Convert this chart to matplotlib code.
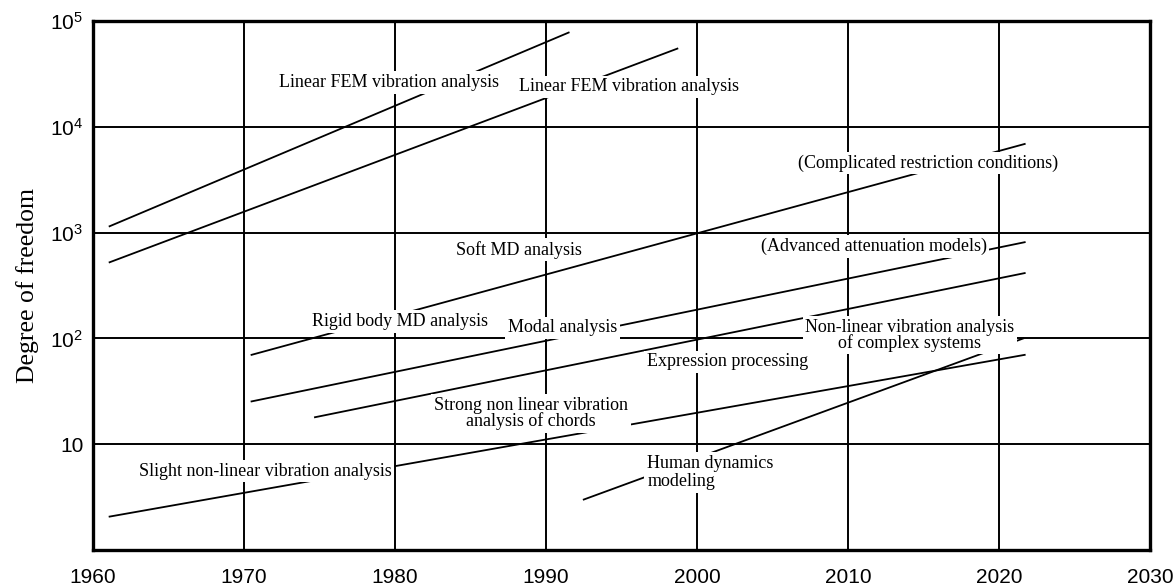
import numpy as np
import matplotlib
matplotlib.use("Agg")
from matplotlib import pyplot as plt

# trend lines: (start year, start dof, end year, end dof)
line_start_years = [1961.1, 1961.1, 1970.5, 1970.5, 1974.7, 1961.1, 1992.5]
line_start_dof = [1150, 525, 70, 25.4, 18, 2.07, 3.0]
line_end_years = [1991.5, 1998.7, 2021.7, 2021.7, 2021.7, 2021.7, 2021.6]
line_end_dof = [78000, 55000, 6900, 813, 415, 70, 100]

# labels placed on the chart
label_texts = [
    "Linear FEM vibration analysis",
    "Linear FEM vibration analysis",
    "(Complicated restriction conditions)",
    "Soft MD analysis",
    "(Advanced attenuation models)",
    "Rigid body MD analysis",
    "Modal analysis",
    "Non-linear vibration analysis\nof complex systems",
    "Expression processing",
    "Strong non linear vibration\nanalysis of chords",
    "Slight non-linear vibration analysis",
    "Human dynamics\nmodeling",
]
label_years = [1979.6, 1995.5, 2015.3, 1988.2, 2011.7, 1980.3, 1991.1,
               2014.1, 2002.0, 1989.0, 1971.4, 1996.7]
label_dof = [10 ** 4.42, 10 ** 4.38, 10 ** 3.66, 10 ** 2.84, 10 ** 2.87,
             10 ** 2.16, 10 ** 2.10, 10 ** 2.03, 10 ** 1.78, 10 ** 1.29,
             10 ** 0.745, 10 ** 0.733]

year_ticks = [1960, 1970, 1980, 1990, 2000, 2010, 2020, 2030]
dof_ticks = [10, 100, 1000, 10000, 100000]
dof_tick_labels = ["10", r"$10^{2}$", r"$10^{3}$", r"$10^{4}$", r"$10^{5}$"]

plt.rcParams['mathtext.fontset'] = 'custom'
plt.rcParams['mathtext.rm'] = 'Liberation Sans'
plt.rcParams['mathtext.it'] = 'Liberation Sans'

fig = plt.figure(figsize=(11.74, 5.87), dpi=100)
ax = fig.add_axes([0.0792, 0.063, 0.9004, 0.901])

ax.set_yscale('log')
ax.set_xlim(1960, 2030)
ax.set_ylim(1, 1e5)

ax.set_xticks(year_ticks)
ax.set_xticklabels([str(y) for y in year_ticks], family='Liberation Sans', fontsize=15)
ax.set_yticks(dof_ticks)
ax.set_yticklabels(dof_tick_labels, family='Liberation Sans', fontsize=15)
ax.yaxis.set_minor_locator(matplotlib.ticker.NullLocator())
ax.tick_params(axis='x', length=0, pad=13)
ax.tick_params(axis='y', length=0, pad=7)

ax.grid(True, which='major', color='black', linewidth=1.4, zorder=1)
ax.set_axisbelow(True)
for sp in ax.spines.values():
    sp.set_linewidth(2.4)

for x0, y0, x1, y1 in zip(line_start_years, line_start_dof, line_end_years, line_end_dof):
    ax.plot([x0, x1], [y0, y1], color='black', linewidth=1.3, zorder=2)

for txt, x, y in zip(label_texts, label_years, label_dof):
    if txt.startswith("Human"):
        ha, ls = 'left', 1.15
    else:
        ha, ls = 'center', 0.85
    ax.text(x, y, txt, ha=ha, va='center', family='Liberation Serif', fontsize=13,
            linespacing=ls, zorder=3,
            bbox=dict(boxstyle='square,pad=0.15', facecolor='white', edgecolor='none'))

ax.set_ylabel("Degree of freedom", family='Liberation Serif', fontsize=18.5, labelpad=8)

fig.savefig("out.png", dpi=100)
